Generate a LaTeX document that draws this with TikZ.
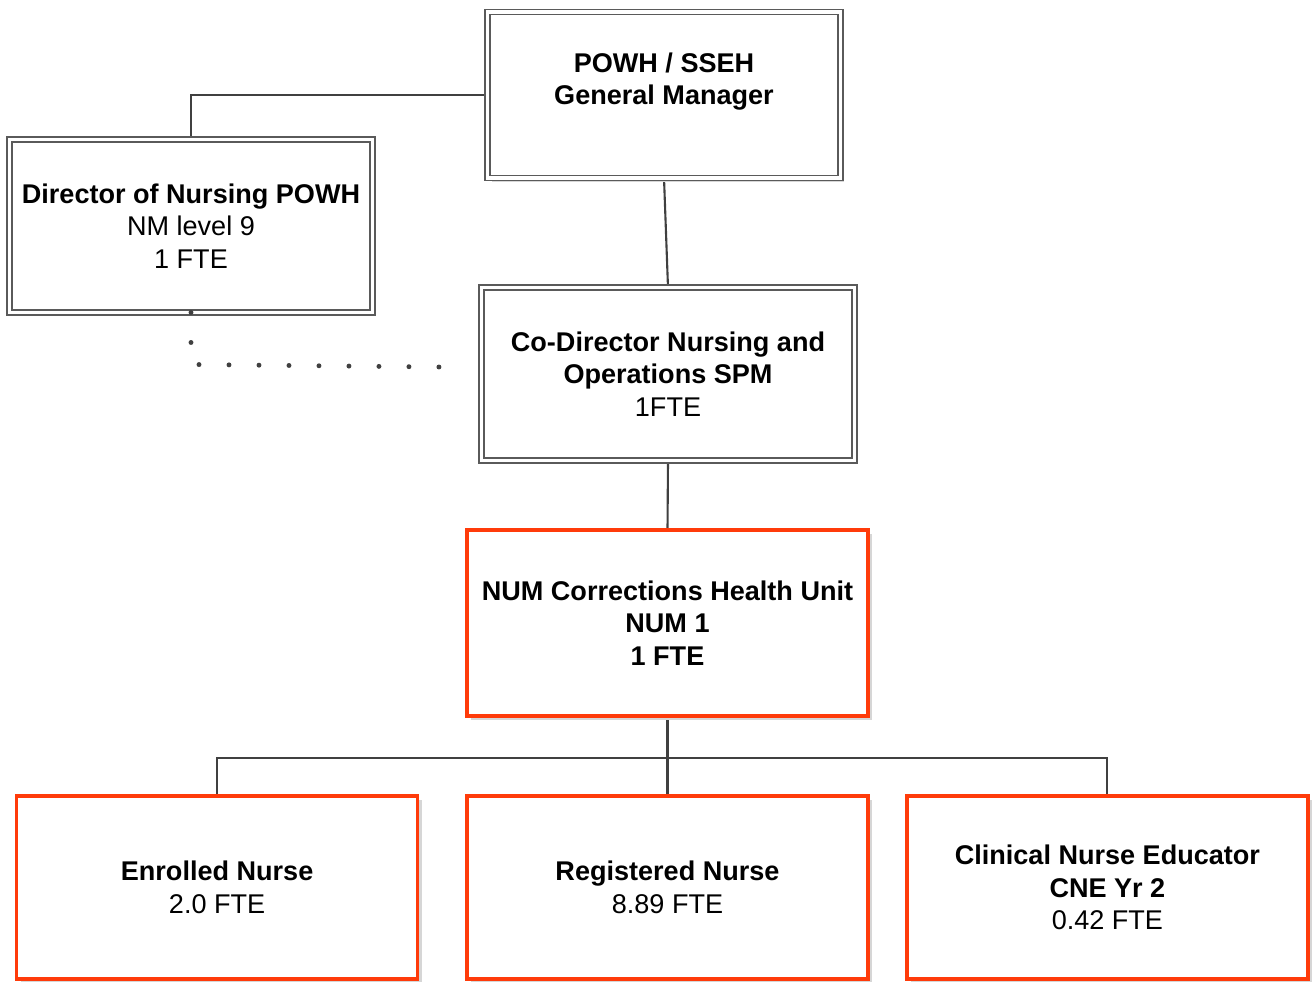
\documentclass[tikz,border=0pt]{standalone}
\usepackage{fontspec}
\setmainfont{Liberation Sans}
\usetikzlibrary{positioning,shadows,backgrounds}
\definecolor{numred}{HTML}{FF3B0A}
\definecolor{boxgray}{HTML}{5A5A5A}
\definecolor{linegray}{HTML}{404040}
\tikzset{
  orgtext/.style={align=center, inner sep=0pt, outer sep=0pt, fill=white,
    font=\fontsize{15.4}{18.4}\selectfont,
    drop shadow={shadow xshift=0.08cm, shadow yshift=-0.08cm, fill=black!16, opacity=1}},
  mgrbox/.style={orgtext, draw=boxgray, line width=0.85pt, double=white, double distance=2pt},
  unitbox/.style={orgtext, draw=numred, line width=2pt},
  conn/.style={draw=linegray, line width=1.2pt},
  dotline/.style={draw=linegray, line width=2.8pt, line cap=round, dash pattern=on 0pt off 0.6cm}
}

\begin{document}
\begin{tikzpicture}[x=0.02cm, y=-0.02cm]
  \useasboundingbox (0,0) rectangle (1312,981);

  % management
  \node(gm) [mgrbox, minimum width=7.06cm, minimum height=3.32cm] at (664,95)
    {\textbf{POWH / SSEH}\\\textbf{General Manager}\\\mbox{}};
  \node(don) [mgrbox, minimum width=7.26cm, minimum height=3.46cm] at (191,226)
    {\textbf{Director of Nursing POWH}\\NM level 9\\1 FTE};
  \node(codir) [mgrbox, minimum width=7.46cm, minimum height=3.46cm] at (668,374)
    {\textbf{Co-Director Nursing and}\\\textbf{Operations SPM}\\1FTE};

  % unit
  \node(num) [unitbox, minimum width=8.02cm, minimum height=3.72cm] at (667.5,623)
    {\textbf{NUM Corrections Health Unit}\\\textbf{NUM 1}\\\textbf{1 FTE}};

  % staff
  \node(rn)  [unitbox, minimum width=8.02cm, minimum height=3.66cm,
              below of=num, node distance=5.29cm] {\textbf{Registered Nurse}\\8.89 FTE};
  \node(en)  [unitbox, minimum width=8.02cm, minimum height=3.66cm,
              left of=rn, node distance=9.01cm]   {\textbf{Enrolled Nurse}\\2.0 FTE};
  \node(cne) [unitbox, minimum width=8.02cm, minimum height=3.66cm,
              right of=rn, node distance=8.8cm]   {\textbf{Clinical Nurse Educator}\\\textbf{CNE Yr 2}\\0.42 FTE};

  \coordinate(bus) at (668,758);
  \coordinate(dotend) at (440,367);

  \begin{scope}[on background layer]
    \draw[conn] (gm.west) -| (don.north);
    \draw[conn] (gm.south) -- (codir.north);
    \draw[conn] (codir.south) -- (num.north);
    \draw[conn] (num.south) -- (rn.north);
    \draw[conn] (en.north) |- (bus) -| (cne.north);
  \end{scope}
  \draw[dotline] (don.south) -- ++(0,52) -- (dotend);
\end{tikzpicture}
\end{document}
